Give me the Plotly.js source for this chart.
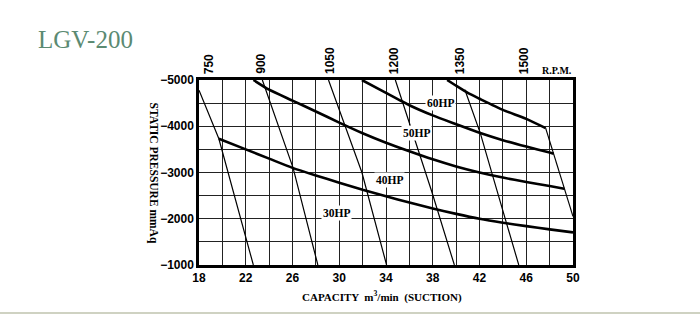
<!DOCTYPE html>
<html>
<head>
<meta charset="utf-8">
<script src="https://cdn.plot.ly/plotly-3.0.1.min.js"></script>
<style>html,body{margin:0;padding:0;background:#fff;}#chart{width:700px;height:324px;}</style>
</head>
<body>
<div id="chart"></div>
<script>
// ---- data ----
const xTicks = [18, 22, 26, 30, 34, 38, 42, 46, 50];
const yTicks = [-5000, -4000, -3000, -2000, -1000];

// constant-power curves (capacity m3/min, static pressure mmAq)
const hp30x = [19.7, 22, 24, 26, 28, 30, 32, 34, 36, 38, 40, 42, 44, 46, 48, 50];
const hp30y = [-3730, -3500, -3300, -3100, -2935, -2780, -2625, -2485, -2350, -2220, -2105, -2000, -1915, -1840, -1770, -1705];
const hp40x = [22.66, 24, 26, 28, 30, 32, 34, 36, 38, 40, 42, 44, 46, 48, 49.25];
const hp40y = [-5000, -4790, -4555, -4320, -4080, -3850, -3645, -3460, -3285, -3130, -3000, -2890, -2795, -2710, -2650];
const hp50x = [31.94, 34, 36, 38, 40, 42, 44, 46, 48, 48.35];
const hp50y = [-5000, -4720, -4455, -4235, -4045, -3860, -3700, -3560, -3430, -3405];
const hp60x = [39.23, 40, 41, 42, 44, 46, 47.66];
const hp60y = [-5000, -4875, -4720, -4595, -4355, -4160, -3960];
const hpLabels = ['30HP', '40HP', '50HP', '60HP'];
const hpLabelX = [29.74, 34.28, 36.6, 38.65];
const hpLabelY = [-2134, -2845, -3858, -4504];

// speed lines
const rpm750x = [18, 19.7, 22.65];
const rpm750y = [-4780, -3730, -1000];
const rpm900x = [23.42, 26.05, 28.17];
const rpm900y = [-5000, -3100, -1000];
const rpm1050x = [29.08, 31.94, 34.05];
const rpm1050y = [-5000, -3000, -1000];
const rpm1200x = [34.8, 36.1, 37.9, 39.85];
const rpm1200y = [-5000, -4000, -2600, -1000];
const rpm1350x = [40.75, 42.08, 43.08, 45.36];
const rpm1350y = [-4790, -3840, -2970, -1000];
const rpm1500x = [47.66, 48.35, 50];
const rpm1500y = [-3960, -3405, -2050];
const rpmLabels = ['750', '900', '1050', '1200', '1350', '1500'];
const rpmLabelX = [18.88, 23.29, 29.16, 34.65, 40.3, 45.78];

// ---- grid positions (labelled ticks plus the unlabelled lines between them) ----
function withMidpoints(vals) {
  const out = [], txt = [];
  vals.forEach((v, i) => {
    out.push(v); txt.push(v < 0 ? '\u2212' + Math.abs(v) : String(v));
    if (i < vals.length - 1) { out.push((v + vals[i + 1]) / 2); txt.push(''); }
  });
  return [out, txt];
}
const [xGrid, xGridText] = withMidpoints(xTicks);
const [yGrid, yGridText] = withMidpoints(yTicks);

// ---- styles ----
const serif = 'Liberation Serif, Times New Roman, serif';
const sans = 'Liberation Sans, Arial, sans-serif';

const hpSets = [[hp30x, hp30y], [hp40x, hp40y], [hp50x, hp50y], [hp60x, hp60y]];
const rpmSets = [[rpm750x, rpm750y], [rpm900x, rpm900y], [rpm1050x, rpm1050y],
                 [rpm1200x, rpm1200y], [rpm1350x, rpm1350y], [rpm1500x, rpm1500y]];

const traces = [];
rpmSets.forEach(s => traces.push({x: s[0], y: s[1], mode: 'lines', line: {color: '#000', width: 1.2}, hoverinfo: 'skip'}));
hpSets.forEach(s => traces.push({x: s[0], y: s[1], mode: 'lines', line: {color: '#000', width: 2.6, shape: 'spline', smoothing: 0.6}, hoverinfo: 'skip'}));

const annotations = [];
hpLabels.forEach((t, i) => annotations.push({
  x: hpLabelX[i], y: hpLabelY[i], xref: 'x', yref: 'y', text: t, showarrow: false,
  font: {family: serif, size: 11.5, color: '#000', weight: 'bold'},
  bgcolor: '#fff', borderpad: 1, xanchor: 'center', yanchor: 'middle'
}));
rpmLabels.forEach((t, i) => annotations.push({
  x: rpmLabelX[i], y: 1 + (6 + t.length * 3.35) / 185, xref: 'x', yref: 'paper', text: t, showarrow: false,
  textangle: -90, font: {family: sans, size: 12, color: '#000', weight: 'bold'},
  xanchor: 'center', yanchor: 'middle'
}));
annotations.push({x: 48.63, y: 1 + 10 / 185, xref: 'x', yref: 'paper', text: 'R.P.M.', showarrow: false,
  font: {family: serif, size: 10, color: '#000', weight: 'bold'}, xanchor: 'center', yanchor: 'middle'});
annotations.push({x: -46 / 374, y: 0.5, xref: 'paper', yref: 'paper', text: 'STATIC PRESSURE mmAq', showarrow: false,
  textangle: 90, font: {family: serif, size: 11.5, color: '#000', weight: 'bold'}, xanchor: 'center', yanchor: 'middle'});
annotations.push({x: 0.49, y: -31 / 185, xref: 'paper', yref: 'paper', text: 'CAPACITY  m<sup>3</sup>/min  (SUCTION)', showarrow: false,
  font: {family: serif, size: 11, color: '#000', weight: 'bold'}, xanchor: 'center', yanchor: 'middle'});

const axisCommon = {
  zeroline: false, showgrid: true, gridcolor: '#222', gridwidth: 1,
  showline: true, linecolor: '#000', linewidth: 2.5, mirror: true, ticks: '',
  tickfont: {family: sans, size: 12, color: '#000', weight: 'bold'}, fixedrange: true
};

const layout = {
  width: 700, height: 324,
  margin: {l: 199, r: 127, t: 80, b: 59, pad: 0},
  paper_bgcolor: '#fff', plot_bgcolor: '#fff',
  showlegend: false,
  title: {text: 'LGV-200', font: {family: serif, size: 25, color: '#5b8a72'},
          xref: 'container', yref: 'container', x: 38 / 700, xanchor: 'left', y: 1 - 39 / 324, yanchor: 'middle'},
  xaxis: Object.assign({range: [xTicks[0], xTicks[xTicks.length - 1]], tickmode: 'array', tickvals: xGrid, ticktext: xGridText}, axisCommon),
  yaxis: Object.assign({range: [yTicks[yTicks.length - 1], yTicks[0]], tickmode: 'array', tickvals: yGrid, ticktext: yGridText}, axisCommon),
  annotations: annotations,
  shapes: [{type: 'line', xref: 'paper', yref: 'paper', x0: -199 / 374, x1: 501 / 374, y0: -48 / 185, y1: -48 / 185,
            line: {color: '#cfd2c2', width: 2}}]
};

Plotly.newPlot('chart', traces, layout, {displayModeBar: false});
</script>
</body>
</html>
